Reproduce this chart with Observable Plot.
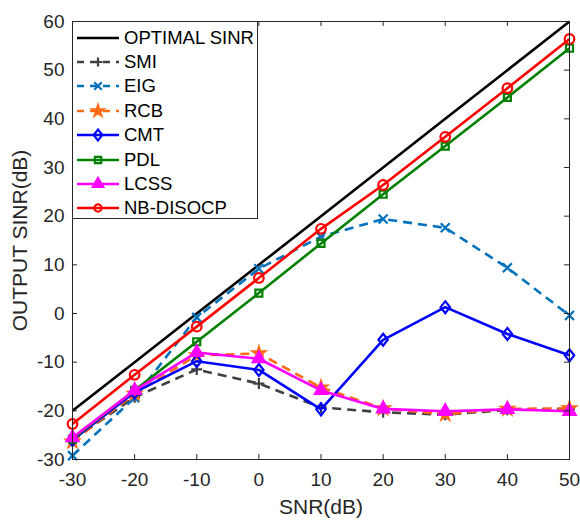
<!DOCTYPE html>
<html>
<head>
<meta charset="utf-8">
<script src="https://cdn.jsdelivr.net/npm/d3@7"></script>
<script src="https://cdn.jsdelivr.net/npm/@observablehq/plot@0.6"></script>
<style>
  body { margin: 0; background: #fff; }
  #wrap { position: relative; width: 580px; height: 523px; font-family: "Liberation Sans", Arial, Helvetica, sans-serif; }
  #legend { position: absolute; left: 72px; top: 21px; width: 186px; height: 198px; background: #fff; border: 1px solid #262626; box-sizing: border-box; }
  .row { position: absolute; left: 3px; height: 24px; display: flex; align-items: center; }
  .row svg { display: block; }
  .row span { font-size: 18.5px; color: #000; margin-left: 4px; white-space: nowrap; }
</style>
</head>
<body>
<div id="wrap"><div id="chart"></div><div id="legend"></div></div>
<script>
// ---- data ----
const snr = [-30, -20, -10, 0, 10, 20, 30, 40, 50];
const optimal = [-20, -10, 0, 10, 20, 30, 40, 50, 60];
const smi = [-26, -17.2, -11.5, -14.4, -19.3, -20.3, -20.8, -19.8, -19.6];
const eig = [-29.2, -17.3, -0.8, 9.2, 15.8, 19.4, 17.6, 9.4, -0.4];
const rcb = [-26.3, -16.5, -8.6, -8.2, -15.2, -19.5, -20.7, -19.6, -19.5];
const cmt = [-26, -16.2, -9.8, -11.6, -19.7, -5.4, 1.3, -4.2, -8.6];
const pdl = [-25.8, -15.8, -5.8, 4.2, 14.4, 24.5, 34.4, 44.4, 54.5];
const lcss = [-25.5, -15.8, -8, -9.3, -15.8, -19.6, -20.1, -19.7, -20.1];
const nbdisocp = [-22.7, -12.6, -2.7, 7.3, 17.4, 26.4, 36.3, 46.3, 56.4];
const seriesNames = ["OPTIMAL SINR", "SMI", "EIG", "RCB", "CMT", "PDL", "LCSS", "NB-DISOCP"];
const xTicks = [-30, -20, -10, 0, 10, 20, 30, 40, 50];
const yTicks = [-30, -20, -10, 0, 10, 20, 30, 40, 50, 60];

// ---- custom marker shapes ----
const rr = s => Math.sqrt(s / Math.PI);
const symPlus = { draw(c, s) { const r = rr(s); c.moveTo(-r, 0); c.lineTo(r, 0); c.moveTo(0, -r); c.lineTo(0, r); } };
const symTimes = { draw(c, s) { const r = rr(s) * 0.75; c.moveTo(-r, -r); c.lineTo(r, r); c.moveTo(-r, r); c.lineTo(r, -r); } };
const symDiamond = { draw(c, s) { const r = rr(s); const w = r * 0.78; c.moveTo(0, -r); c.lineTo(w, 0); c.lineTo(0, r); c.lineTo(-w, 0); c.closePath(); } };
const symSquare = { draw(c, s) { const r = rr(s) * 0.7; c.rect(-r, -r, 2 * r, 2 * r); } };
const symTri = { draw(c, s) { const r = rr(s); const h = r * Math.sqrt(3) / 2; c.moveTo(0, -r); c.lineTo(h, r / 2); c.lineTo(-h, r / 2); c.closePath(); } };
const symCircle = { draw(c, s) { const r = rr(s); c.moveTo(r, 0); c.arc(0, 0, r, 0, 2 * Math.PI); } };
const symStar = d3.symbolStar;

const styles = [
  { name: seriesNames[0], vals: optimal, color: "#000000", dash: null, sym: null },
  { name: seriesNames[1], vals: smi, color: "#404040", dash: "9,6", sym: symPlus, r: 5.5, fill: "none", lr: 4.5 },
  { name: seriesNames[2], vals: eig, color: "#0072BD", dash: "9,6", sym: symTimes, r: 6, fill: "none", lr: 5 },
  { name: seriesNames[3], vals: rcb, color: "#FF6A14", dash: "9,6", sym: symStar, r: 3.8, fill: "#FF6A14", lr: 3.4 },
  { name: seriesNames[4], vals: cmt, color: "#0000FF", dash: null, sym: symDiamond, r: 6, fill: "none", lr: 5.5 },
  { name: seriesNames[5], vals: pdl, color: "#008000", dash: null, sym: symSquare, r: 5, fill: "none", lr: 4.5 },
  { name: seriesNames[6], vals: lcss, color: "#FF00FF", dash: null, sym: symTri, r: 7, fill: "#FF00FF", lr: 6 },
  { name: seriesNames[7], vals: nbdisocp, color: "#FF0000", dash: null, sym: symCircle, r: 4.8, fill: "none", lr: 3.6 }
];

const W = 580, H = 523, mL = 72, mR = 11, mT = 21, mB = 64;
const plotH = H - mT - mB, plotW = W - mL - mR;

const marks = [];
for (const s of styles) {
  const data = snr.map((x, i) => ({ x, y: s.vals[i] }));
  marks.push(Plot.line(data, { x: "x", y: "y", stroke: s.color, strokeWidth: 2.6, strokeDasharray: s.dash, strokeLinecap: "butt" }));
  if (s.sym) marks.push(Plot.dot(data, { x: "x", y: "y", symbol: s.sym, r: s.r, stroke: s.color, fill: s.fill, strokeWidth: 2.2 }));
}

const fmt = d => String(d);
const chart = Plot.plot({
  width: W, height: H,
  marginLeft: mL, marginRight: mR, marginTop: mT, marginBottom: mB,
  style: { fontFamily: '"Liberation Sans", Arial, Helvetica, sans-serif', background: "#fff", color: "#262626" },
  x: { domain: [-30, 50] },
  y: { domain: [-30, 60] },
  marks: [
    ...marks,
    Plot.frame({ stroke: "#262626", strokeWidth: 1 }),
    Plot.tickX(xTicks, { x: d => d, stroke: "#262626", insetTop: plotH - 5 }),
    Plot.tickX(xTicks, { x: d => d, stroke: "#262626", insetBottom: plotH - 5 }),
    Plot.tickY(yTicks, { y: d => d, stroke: "#262626", insetRight: plotW - 5 }),
    Plot.tickY(yTicks, { y: d => d, stroke: "#262626", insetLeft: plotW - 5 }),
    Plot.axisX(xTicks, { tickSize: 0, tickPadding: 13, fontSize: 19, fill: "#262626", tickFormat: fmt, label: "SNR(dB)", labelAnchor: "center", labelArrow: "none", labelOffset: 54 }),
    Plot.axisY(yTicks, { tickSize: 0, tickPadding: 8, fontSize: 19, fill: "#262626", tickFormat: fmt, label: "OUTPUT SINR(dB)", labelAnchor: "center", labelArrow: "none", labelOffset: 60 })
  ]
});
d3.select(chart).selectAll('g[aria-label="x-axis label"] text, g[aria-label="y-axis label"] text').style("font-size", "21px");
document.getElementById("chart").appendChild(chart);

// ---- legend overlay ----
const leg = document.getElementById("legend");
styles.forEach((s, i) => {
  const row = document.createElement("div");
  row.className = "row";
  row.style.top = (3.5 + i * 24.4) + "px";
  const svg = d3.create("svg").attr("width", 44).attr("height", 24);
  svg.append("line").attr("x1", 1).attr("x2", 43).attr("y1", 12).attr("y2", 12)
    .attr("stroke", s.color).attr("stroke-width", 2.6).attr("stroke-dasharray", s.dash ? "7,6" : null);
  if (s.sym) {
    svg.append("path").attr("transform", "translate(22,12)")
      .attr("d", d3.symbol(s.sym, Math.PI * s.lr * s.lr)())
      .attr("stroke", s.color).attr("stroke-width", 2.2).attr("fill", s.fill);
  }
  row.appendChild(svg.node());
  const t = document.createElement("span");
  t.textContent = s.name;
  row.appendChild(t);
  leg.appendChild(row);
});
</script>
</body>
</html>
